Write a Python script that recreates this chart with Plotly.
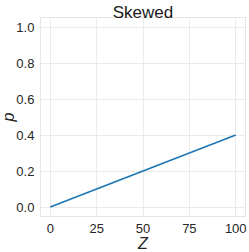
import plotly.graph_objects as go

z_vals = [0, 100]
p_vals = [0.0, 0.4]
x_ticks = [0, 25, 50, 75, 100]
y_ticks = [0.0, 0.2, 0.4, 0.6, 0.8, 1.0]
title = "Skewed"

fig = go.Figure(go.Scatter(x=z_vals, y=p_vals, mode="lines",
                           line=dict(color="#1f77b4", width=1.8)))
font = "Liberation Sans, Arial, sans-serif"
fig.update_layout(
    width=249, height=252,
    margin=dict(l=41, r=4, t=18, b=36, autoexpand=False),
    paper_bgcolor="white", plot_bgcolor="white",
    showlegend=False,
    title=dict(text=title, x=0.5, xref="paper", xanchor="center",
               y=1, yref="paper", yanchor="bottom", pad=dict(b=0),
               font=dict(family=font, size=17, color="#1a1a1a")),
    font=dict(family=font, size=13, color="#262626"),
)
fig.update_xaxes(range=[-5, 105], tickvals=x_ticks, ticktext=[str(v) for v in x_ticks],
                 showgrid=True, gridcolor="#ebebeb", gridwidth=1, zeroline=False,
                 showline=True, linecolor="#e6e6e6", mirror=True,
                 ticks="", ticklabelstandoff=0, automargin=False,
                 title=dict(text="<i>Z</i>", font=dict(size=16), standoff=0))
fig.update_yaxes(range=[-0.05, 1.05], tickvals=y_ticks, ticktext=[f"{v:.1f}" for v in y_ticks],
                 showgrid=True, gridcolor="#ebebeb", gridwidth=1, zeroline=False,
                 showline=True, linecolor="#e6e6e6", mirror=True,
                 ticks="", ticklabelstandoff=3, automargin=False,
                 title=dict(text="<i>p</i>", font=dict(size=16), standoff=2))
fig.write_html("out.html", config={"displayModeBar": False},
               post_script="document.body.style.margin='0';document.body.style.overflow='hidden';")
